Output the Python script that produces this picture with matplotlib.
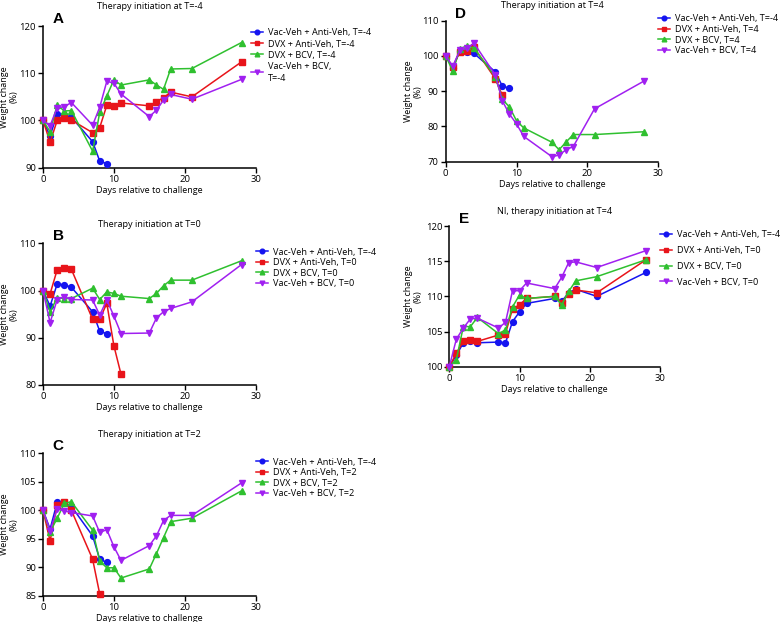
import matplotlib
matplotlib.use("Agg")
import matplotlib.pyplot as plt

plt.rcParams['font.family'] = ['Open Sans', 'DejaVu Sans']

# ---- data ----
days_blue = [0, 1, 2, 3, 4, 7, 8, 9]
vals_blue = [100, 96.7, 101.4, 101.2, 100.7, 95.5, 91.4, 90.85]

days_full = [0, 1, 2, 3, 4, 7, 8, 9, 10, 11, 15, 16, 17, 18, 21, 28]

# Panel A (T=-4)
a_red = [100, 95.4, 100.0, 100.5, 100.1, 97.4, 98.5, 103.2, 103.1, 103.7, 103.1, 104.0, 104.8, 106.0, 105.0, 112.4]
a_green = [100, 97.6, 103.3, 102.0, 102.1, 93.5, 101.7, 105.2, 108.6, 107.5, 108.6, 107.5, 106.6, 110.9, 111.0, 116.5]
a_purple = [100, 98.9, 102.7, 102.9, 103.8, 99.0, 102.8, 108.3, 107.9, 105.6, 100.8, 102.2, 104.3, 105.5, 104.5, 108.7]

# Panel B (T=0)
b_red_days = [0, 1, 2, 3, 4, 7, 8, 9, 10, 11]
b_red = [100, 99.3, 104.4, 104.8, 104.5, 93.9, 93.9, 97.3, 88.3, 82.3]
b_green = [100, 95.5, 98.5, 98.3, 98.3, 100.5, 98.1, 99.7, 99.4, 98.8, 98.3, 99.4, 101.0, 102.2, 102.2, 106.3]
b_purple = [100, 93.2, 98.1, 98.7, 98.1, 98.0, 94.8, 98.0, 94.6, 90.9, 91.0, 94.2, 95.5, 96.2, 97.6, 105.5]

# Panel C (T=2)
c_red_days = [0, 1, 2, 3, 4, 7, 8]
c_red = [100, 94.6, 100.9, 101.4, 100.0, 91.4, 85.3]
c_green = [100, 96.2, 98.6, 101.2, 101.5, 96.5, 91.1, 89.9, 89.9, 88.1, 89.7, 92.4, 95.2, 98.0, 98.6, 103.4]
c_purple = [100, 96.4, 100.2, 99.9, 99.6, 99.0, 96.1, 96.6, 93.6, 91.2, 93.8, 95.5, 98.2, 99.1, 99.1, 104.8]

# Panel D (T=4)
d_red_days = [0, 1, 2, 3, 4, 7, 8]
d_red = [100, 96.8, 101.2, 101.5, 102.4, 93.5, 88.8]
d_green = [100, 95.7, 102.0, 102.9, 102.2, 94.1, 87.7, 85.5, 81.6, 79.6, 75.5, 73.4, 75.6, 77.7, 77.7, 78.5]
d_purple = [100, 97.1, 101.6, 102.2, 103.6, 94.6, 87.2, 83.5, 80.7, 77.2, 71.4, 71.9, 73.4, 74.3, 85.0, 92.9]

# Panel E (NI, T=4)
e_blue = [100, 101.6, 103.4, 103.7, 103.4, 103.5, 103.4, 106.4, 107.8, 109.0, 109.7, 109.3, 110.5, 111.0, 110.0, 113.4]
e_red = [100, 101.9, 103.6, 103.8, 103.6, 104.5, 104.7, 108.2, 108.8, 109.7, 110.0, 109.1, 110.4, 110.9, 110.5, 115.2]
e_green = [100, 101.0, 105.7, 105.7, 107.0, 104.7, 105.2, 108.5, 110.2, 109.7, 110.0, 108.8, 110.7, 112.2, 112.8, 115.2]
e_purple = [100, 103.9, 105.5, 106.8, 106.9, 105.5, 106.3, 110.8, 110.8, 111.9, 111.1, 112.7, 114.8, 114.9, 114.1, 116.5]

titles = ["Therapy initiation at T=-4", "Therapy initiation at T=0", "Therapy initiation at T=2",
          "Therapy initiation at T=4", "NI, therapy initiation at T=4"]
letters = ["A", "B", "C", "D", "E"]
legend_labels = [
    ["Vac-Veh + Anti-Veh, T=-4", "DVX + Anti-Veh, T=-4", "DVX + BCV, T=-4", "Vac-Veh + BCV,\nT=-4"],
    ["Vac-Veh + Anti-Veh, T=-4", "DVX + Anti-Veh, T=0", "DVX + BCV, T=0", "Vac-Veh + BCV, T=0"],
    ["Vac-Veh + Anti-Veh, T=-4", "DVX + Anti-Veh, T=2", "DVX + BCV, T=2", "Vac-Veh + BCV, T=2"],
    ["Vac-Veh + Anti-Veh, T=-4", "DVX + Anti-Veh, T=4", "DVX + BCV, T=4", "Vac-Veh + BCV, T=4"],
    ["Vac-Veh + Anti-Veh, T=-4", "DVX + Anti-Veh, T=0", "DVX + BCV, T=0", "Vac-Veh + BCV, T=0"],
]
ylims = [(90, 120), (80, 110), (85, 110), (70, 110), (100, 120)]
yticks = [[90, 100, 110, 120], [80, 90, 100, 110], [85, 90, 95, 100, 105, 110],
          [70, 80, 90, 100, 110], [100, 105, 110, 115, 120]]
xticks = [0, 10, 20, 30]

series = [
    [(days_blue, vals_blue), (days_full, a_red), (days_full, a_green), (days_full, a_purple)],
    [(days_blue, vals_blue), (b_red_days, b_red), (days_full, b_green), (days_full, b_purple)],
    [(days_blue, vals_blue), (c_red_days, c_red), (days_full, c_green), (days_full, c_purple)],
    [(days_blue, vals_blue), (d_red_days, d_red), (days_full, d_green), (days_full, d_purple)],
    [(days_full, e_blue), (days_full, e_red), (days_full, e_green), (days_full, e_purple)],
]

colors = ['#1414f0', '#e8141a', '#2fc02f', '#a020f0']
markers = ['o', 's', '^', 'v']

W, H = 781, 622
# axes boxes in pixels: left, top, right, bottom
boxes = [(43, 26, 255.7, 167.7), (43, 243.3, 255.7, 385), (43, 453.3, 255.7, 595.7),
         (445.7, 20.7, 658.3, 161.7), (449.3, 226, 660, 366.7)]
legend_pos = [(251, 28.5), (256, 247.5), (256, 457.5), (658, 14.5), (660, 230)]
legend_spacing = [0.22, 0.17, 0.17, 0.17, 0.75]
title_pad = [12, 11.5, 11.5, 9, 8.7]
ylabel_off = [-33.5, -33.5, -33.5, -32.5, -36]

fig = plt.figure(figsize=(W / 100, H / 100), dpi=100)
FS = 6.8
LBS = 6.5
LFS = 6.6
for i in range(5):
    l, t, r, b = boxes[i]
    ax = fig.add_axes([l / W, 1 - b / H, (r - l) / W, (b - t) / H])
    for j, (x, y) in enumerate(series[i]):
        ax.plot(x, y, color=colors[j], marker=markers[j], markersize=4.2, lw=1.1,
                label=legend_labels[i][j], clip_on=False, zorder=3 + j)
    ax.set_xlim(0, 30)
    ax.set_ylim(*ylims[i])
    ax.set_xticks(xticks)
    ax.set_yticks(yticks[i])
    for s in ['top', 'right']:
        ax.spines[s].set_visible(False)
    for s in ['left', 'bottom']:
        ax.spines[s].set_linewidth(1.1)
    ax.tick_params(direction='out', length=3.5, width=1.0, labelsize=FS, pad=1.5)
    ax.set_xlabel("Days relative to challenge", fontsize=LBS, labelpad=1.5)
    ax.set_ylabel("Weight change\n(%)", fontsize=LBS, linespacing=1.05, va='center')
    ax.yaxis.set_label_coords(ylabel_off[i] / (r - l), 0.5)
    ax.set_title(titles[i], fontsize=6.6, pad=title_pad[i])
    ax.text(0.045, 1.0, letters[i], transform=ax.transAxes, fontsize=11,
            fontweight='bold', family='Liberation Sans', ha='left', va='bottom')
    lx, ly = legend_pos[i]
    leg = ax.legend(loc='upper left', bbox_to_anchor=(lx / W, 1 - ly / H),
                    bbox_transform=fig.transFigure, frameon=False, fontsize=LFS,
                    borderpad=0, borderaxespad=0, handlelength=1.3, handletextpad=0.6,
                    labelspacing=legend_spacing[i], markerscale=0.8)
    for txt in leg.get_texts():
        txt.set_linespacing(1.45)

fig.savefig("out.png", dpi=100)
